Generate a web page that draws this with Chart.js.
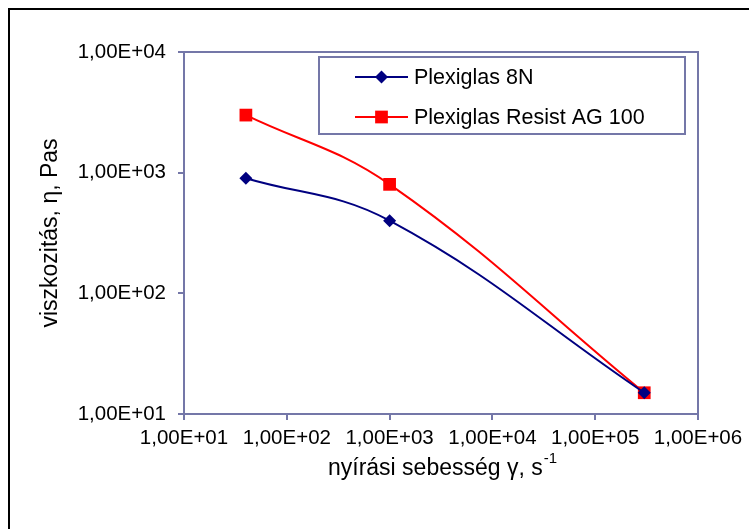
<!DOCTYPE html>
<html>
<head>
<meta charset="utf-8">
<script src="https://cdn.jsdelivr.net/npm/chart.js@4.4.1/dist/chart.umd.min.js"></script>
<style>
  html,body{margin:0;padding:0;background:#fff;overflow:hidden;}
  #wrap{width:749px;height:529px;position:relative;}
</style>
</head>
<body>
<div id="wrap"><canvas id="c" width="749" height="529"></canvas></div>
<script>
// adatok
const shearRate = [40, 1000, 300000];
const visc8N    = [900, 400, 15];
const viscAG100 = [3000, 800, 15];
const seriesNames  = ['Plexiglas 8N', 'Plexiglas Resist AG 100'];
const seriesColors = ['#000080', '#ff0000'];
const xTickVals   = [10, 100, 1000, 10000, 100000, 1000000];
const xTickLabels = ['1,00E+01','1,00E+02','1,00E+03','1,00E+04','1,00E+05','1,00E+06'];
const yTickVals   = [10, 100, 1000, 10000];
const yTickLabels = ['1,00E+01','1,00E+02','1,00E+03','1,00E+04'];
const xTitle = 'nyírási sebesség γ, s';
const xTitleSup = '-1';
const yTitle = 'viszkozitás, η, Pas';

const AXIS = '#7477a8';
const FONT = "'Liberation Sans', Arial, sans-serif";

function marker(ctx, style, r, x, y, color){
  ctx.save();
  ctx.fillStyle = color;
  ctx.beginPath();
  if (style === 'rect'){
    const s = Math.SQRT1_2 * r;
    ctx.rect(x - s, y - s, 2*s, 2*s);
  } else {
    ctx.moveTo(x - r, y); ctx.lineTo(x, y - r); ctx.lineTo(x + r, y); ctx.lineTo(x, y + r);
    ctx.closePath();
  }
  ctx.fill();
  ctx.restore();
}

const frame = {
  id: 'frame',
  beforeDraw(chart){
    const ctx = chart.ctx;
    ctx.save();
    ctx.fillStyle = '#fff';
    ctx.fillRect(0, 0, chart.width, chart.height);
    ctx.fillStyle = '#000';
    ctx.fillRect(8, 8, 2, chart.height);
    ctx.fillRect(8, 8, chart.width, 2);
    ctx.restore();
  },
  beforeDatasetsDraw(chart){
    const {ctx, chartArea:a} = chart;
    ctx.save();
    ctx.strokeStyle = AXIS; ctx.lineWidth = 2;
    ctx.beginPath();
    ctx.moveTo(a.left, a.top); ctx.lineTo(a.right, a.top); ctx.lineTo(a.right, a.bottom);
    ctx.stroke();
    ctx.restore();
  },
  afterDraw(chart){
    const {ctx, chartArea:a} = chart;
    ctx.save();
    // x tengely címe felső indexszel
    ctx.fillStyle = '#000';
    ctx.textBaseline = 'alphabetic';
    ctx.font = '23px ' + FONT;
    const w1 = ctx.measureText(xTitle).width;
    ctx.font = '15px ' + FONT;
    const w2 = ctx.measureText(xTitleSup).width;
    let x0 = (a.left + a.right)/2 - (w1 + w2)/2 + 1;
    ctx.font = '23px ' + FONT;
    ctx.fillText(xTitle, x0, 475);
    ctx.font = '15px ' + FONT;
    ctx.fillText(xTitleSup, x0 + w1 + 1, 463);

    // jelmagyarázat
    const bx = 319, by = 57, bw = 366, bh = 77;
    ctx.fillStyle = '#fff';
    ctx.fillRect(bx, by, bw, bh);
    ctx.strokeStyle = AXIS; ctx.lineWidth = 2;
    ctx.strokeRect(bx, by, bw, bh);
    chart.data.datasets.forEach((ds, i) => {
      const y = 77 + i*40;
      ctx.strokeStyle = ds.borderColor; ctx.lineWidth = 2;
      ctx.beginPath(); ctx.moveTo(355, y); ctx.lineTo(408, y); ctx.stroke();
      marker(ctx, ds.pointStyle, ds.pointRadius, 381.5, y, ds.borderColor);
      ctx.fillStyle = '#000';
      ctx.font = '21.5px ' + FONT;
      ctx.textBaseline = 'middle';
      ctx.fillText(ds.label, 414, y + 1);
    });
    ctx.restore();
  }
};

const toXY = (ys) => shearRate.map((x, i) => ({x, y: ys[i]}));

new Chart(document.getElementById('c'), {
  type: 'line',
  data: {
    datasets: [
      { label: seriesNames[0], data: toXY(visc8N), borderColor: seriesColors[0], backgroundColor: seriesColors[0],
        pointStyle: 'rectRot', pointRadius: 6.5, pointBorderWidth: 0, borderWidth: 2, tension: 0.4 },
      { label: seriesNames[1], data: toXY(viscAG100), borderColor: seriesColors[1], backgroundColor: seriesColors[1],
        pointStyle: 'rect', pointRadius: 9, pointBorderWidth: 0, borderWidth: 2, tension: 0.4 }
    ]
  },
  options: {
    responsive: false,
    animation: false,
    devicePixelRatio: 1,
    layout: { padding: { left: 0, top: 52, right: 51, bottom: 0 } },
    plugins: { legend: { display: false }, tooltip: { enabled: false } },
    scales: {
      x: {
        type: 'logarithmic', min: 10, max: 1000000,
        afterBuildTicks: s => { s.ticks = xTickVals.map(v => ({value: v})); },
        afterFit: s => { s.height = 115; },
        ticks: { callback: v => xTickLabels[xTickVals.indexOf(v)], font: { family: FONT, size: 20.5 }, color: '#000',
                 padding: 6, maxRotation: 0, autoSkip: false },
        grid: { display: true, drawOnChartArea: false, drawTicks: true, tickLength: 6, color: AXIS, lineWidth: 2 },
        border: { display: true, color: AXIS, width: 2 }
      },
      y: {
        type: 'logarithmic', min: 10, max: 10000,
        afterBuildTicks: s => { s.ticks = yTickVals.map(v => ({value: v})); },
        afterFit: s => { s.width = 184; },
        ticks: { callback: v => yTickLabels[yTickVals.indexOf(v)], font: { family: FONT, size: 20.5 }, color: '#000',
                 padding: 12, autoSkip: false },
        grid: { display: true, drawOnChartArea: false, drawTicks: true, tickLength: 6, color: AXIS, lineWidth: 2 },
        border: { display: true, color: AXIS, width: 2 },
        title: { display: true, text: yTitle, color: '#000', font: { family: FONT, size: 23 }, padding: { top: 37, bottom: 0 } }
      }
    }
  },
  plugins: [frame]
});
</script>
</body>
</html>
